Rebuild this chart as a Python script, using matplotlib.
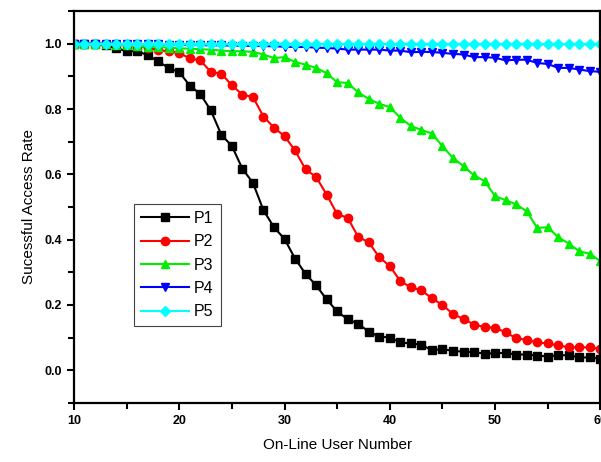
import numpy as np
import matplotlib
matplotlib.use("Agg")
import matplotlib.pyplot as plt
from matplotlib.ticker import MultipleLocator

plt.rcParams['font.family'] = ['Liberation Sans', 'DejaVu Sans']

users = np.arange(10, 61)

p1 = [1.0, 1.0, 0.998, 0.995, 0.987, 0.977, 0.977, 0.965, 0.946, 0.926,
      0.913, 0.872, 0.846, 0.796, 0.721, 0.687, 0.617, 0.574, 0.49, 0.438,
      0.402, 0.342, 0.295, 0.26, 0.217, 0.18, 0.156, 0.142, 0.118, 0.103,
      0.10, 0.085, 0.082, 0.078, 0.061, 0.065, 0.059, 0.057, 0.055, 0.051,
      0.052, 0.053, 0.048, 0.048, 0.045, 0.042, 0.046, 0.046, 0.039, 0.039,
      0.035]
p2 = [1.0, 1.0, 1.0, 0.999, 0.998, 0.996, 0.993, 0.988, 0.98, 0.977,
      0.972, 0.955, 0.949, 0.914, 0.908, 0.873, 0.844, 0.837, 0.777, 0.743,
      0.717, 0.673, 0.615, 0.592, 0.538, 0.478, 0.467, 0.408, 0.392, 0.346,
      0.319, 0.273, 0.254, 0.245, 0.22, 0.20, 0.172, 0.157, 0.14, 0.132,
      0.13, 0.116, 0.098, 0.093, 0.085, 0.082, 0.076, 0.07, 0.07, 0.07,
      0.065]
p3 = [1.0, 1.0, 1.0, 0.998, 0.996, 0.995, 0.993, 0.99, 0.99, 0.988,
      0.986, 0.985, 0.983, 0.982, 0.979, 0.977, 0.977, 0.975, 0.967, 0.956,
      0.959, 0.944, 0.936, 0.926, 0.91, 0.882, 0.88, 0.851, 0.831, 0.816,
      0.806, 0.773, 0.748, 0.736, 0.725, 0.686, 0.65, 0.625, 0.597, 0.579,
      0.533, 0.521, 0.508, 0.487, 0.436, 0.438, 0.407, 0.388, 0.364, 0.357,
      0.334]
p4 = [1.0, 1.0, 1.0, 1.0, 1.0, 0.999, 0.999, 0.998, 0.998, 0.997,
      0.997, 0.996, 0.996, 0.995, 0.995, 0.994, 0.994, 0.993, 0.993, 0.992,
      0.991, 0.99, 0.99, 0.988, 0.987, 0.985, 0.982, 0.982, 0.982, 0.982,
      0.979, 0.979, 0.974, 0.975, 0.975, 0.972, 0.969, 0.967, 0.959, 0.959,
      0.957, 0.949, 0.951, 0.951, 0.941, 0.938, 0.926, 0.926, 0.921, 0.916,
      0.914]
p5 = [1.0] * 51

series = [
    ("P1", p1, "black", "s", 5.2),
    ("P2", p2, "red", "o", 6.0),
    ("P3", p3, "#00ee00", "^", 6.0),
    ("P4", p4, "blue", "v", 6.0),
    ("P5", p5, "cyan", "D", 5.2),
]

fig = plt.figure(figsize=(6.01, 4.62), dpi=100)
ax = fig.add_axes([0.123, 0.128, 0.876, 0.848])

for name, vals, col, mk, ms in series:
    ax.plot(users, vals, color=col, marker=mk, markersize=ms, linewidth=1.5, label=name)

ax.set_xlim(10, 60)
ax.set_ylim(-0.1, 1.1)
ax.xaxis.set_major_locator(MultipleLocator(10))
ax.xaxis.set_minor_locator(MultipleLocator(5))
ax.yaxis.set_minor_locator(MultipleLocator(0.1))
ax.set_yticks([0.0, 0.2, 0.4, 0.6, 0.8, 1.0])
ax.tick_params(which='both', direction='out', width=1.5, top=False, right=False)
ax.tick_params(which='major', length=5, labelsize=9)
ax.tick_params(which='minor', length=4)
for lab in ax.get_xticklabels() + ax.get_yticklabels():
    lab.set_fontweight('bold')
for sp in ax.spines.values():
    sp.set_linewidth(1.6)

ax.set_xlabel("On-Line User Number", fontsize=11, labelpad=8)
ax.set_ylabel("Sucessful Access Rate", fontsize=11, labelpad=6)

leg = ax.legend(loc='upper left', bbox_to_anchor=(0.114, 0.508), borderaxespad=0,
                fontsize=11.5, handlelength=3.0, labelspacing=0.52, fancybox=False,
                edgecolor='#444444', framealpha=1, borderpad=0.45, handletextpad=0.3)
leg.get_frame().set_linewidth(0.8)

fig.savefig("out.png", dpi=100)
